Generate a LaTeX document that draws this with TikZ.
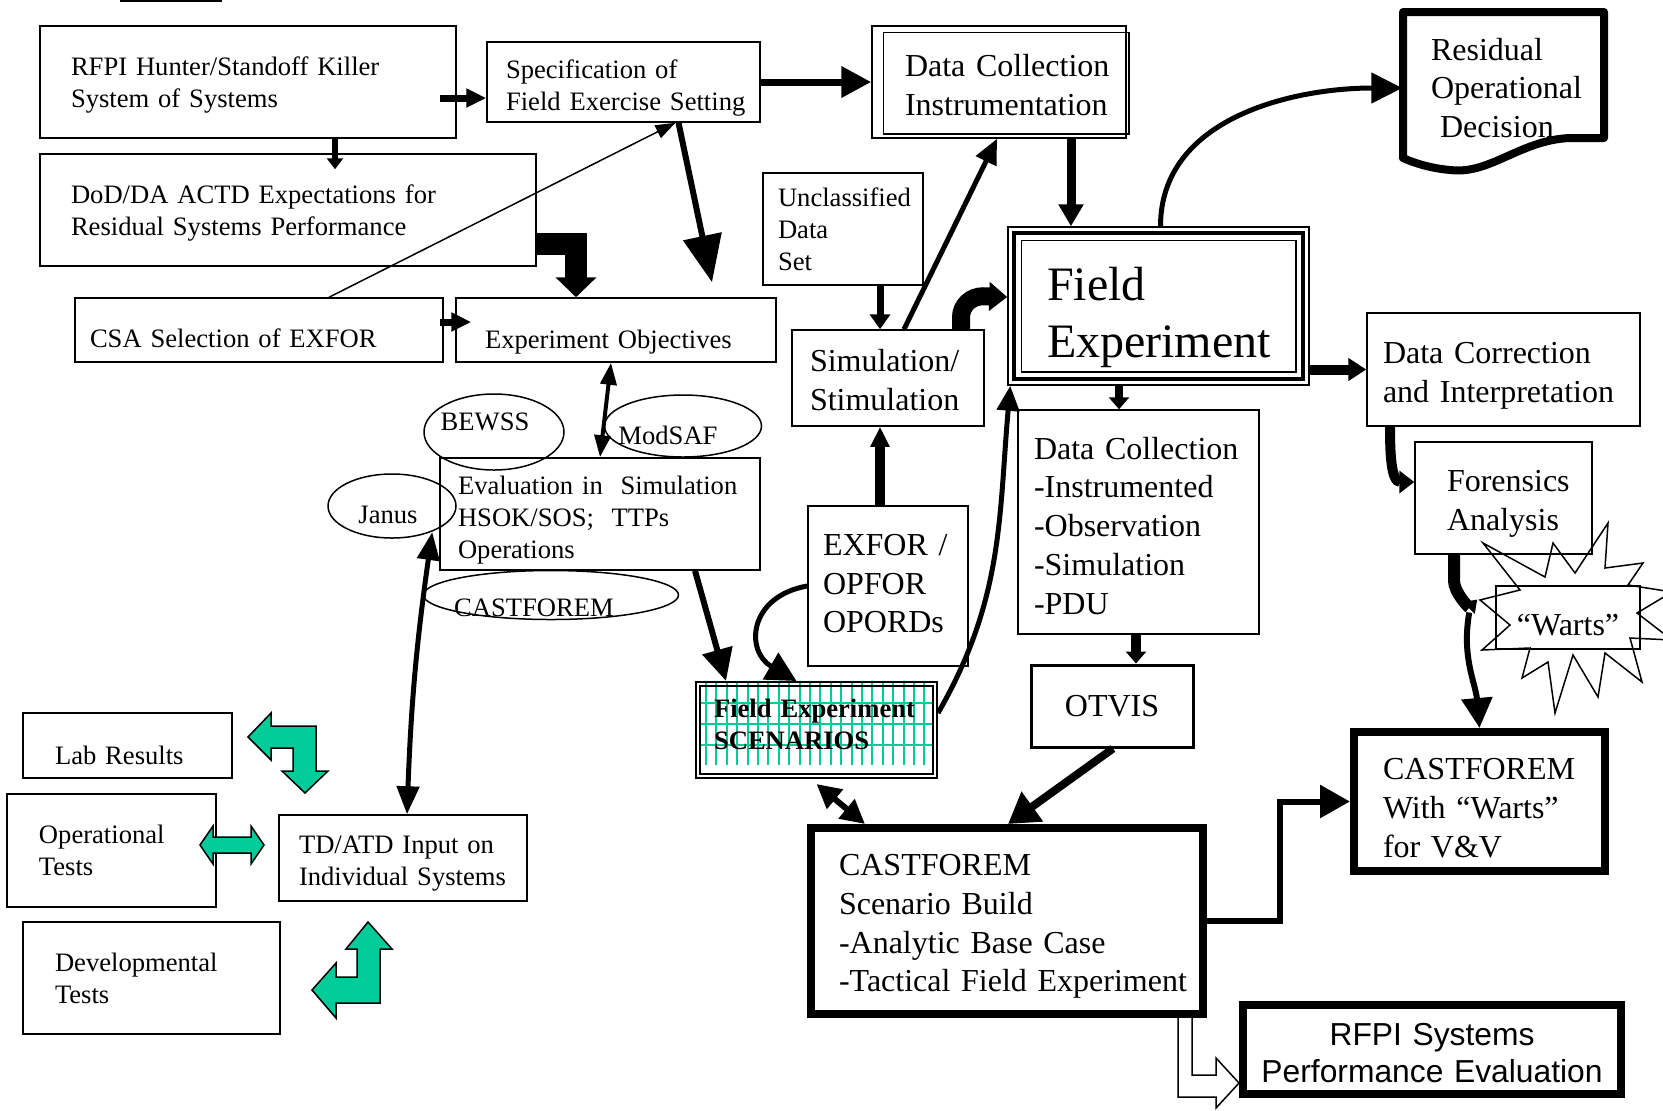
\documentclass[tikz,border=0pt]{standalone}
\usepackage{fontspec}
\setmainfont{Liberation Serif}
\newfontfamily\sansfam{Liberation Sans}
\usetikzlibrary{arrows.meta,calc,shapes.geometric}
\definecolor{tealgreen}{RGB}{0,204,153}
\hyphenpenalty=10000
\exhyphenpenalty=10000
\hbadness=10000
\hfuzz=20pt
\tikzset{
	box/.style={draw, line width=0.75pt, align=left, inner ysep=0pt},
	bx/.style n args={3}{box, minimum height=#1, inner xsep=#2, text width=#3},
	sm/.style={font=\fontsize{13.3}{16}\selectfont},
	md/.style={font=\fontsize{16}{19.4}\selectfont},
	heavy/.style={line width=4pt},
	tdown/.style={execute at begin node={\rule{0pt}{#1}}},
	tup/.style={execute at end node={\rule[-#1]{0pt}{0pt}}},
	oval/.style={draw, ellipse, line width=0.75pt, inner sep=0pt},
	con/.style n args={3}{line width=#1, -{Triangle[length=#2,width=#3]}},
	dcon/.style n args={3}{line width=#1, {Triangle[length=#2,width=#3]}-{Triangle[length=#2,width=#3]}},
	greenarrow/.style={draw, line width=0.75pt, fill=tealgreen, line join=miter},
}

\begin{document}
\begin{tikzpicture}[x=0.5pt,y=-0.5pt]
		%%%%% START %%%%%
		\useasboundingbox (0,0) rectangle (1663,1110);
		\draw[line width=1pt] (120,1) -- (222,1);
		
		% left column
		\node[bx={56pt}{15.5pt}{177pt}, sm, tdown=12.5pt] (rfpi) at (248,82) {RFPI Hunter/Standoff Killer\\System of Systems};
		\node[bx={40pt}{9.5pt}{117.5pt}, sm, tdown=15.7pt] (spec) at (623.5,82) {Specification of\\Field~Exercise~Setting};
		\node[bx={56pt}{15.5pt}{217pt}, sm, tdown=11.9pt] (dod) at (288,210) {DoD/DA ACTD Expectations for\\Residual Systems Performance};
		\node[bx={32pt}{7.5pt}{169pt}, sm, tdown=17.8pt] (csa) at (259,330) {CSA Selection of EXFOR};
		\node[bx={32pt}{14.5pt}{131pt}, sm, tdown=21pt] (expobj) at (616,330) {Experiment Objectives};
		\node[bx={56pt}{9pt}{142pt}, sm, tdown=15.7pt] (eval) at (600,514) {Evaluation in~ Simulation\\HSOK/SOS;~ TTPs\\Operations};
		
		\node[oval, minimum width=70pt, minimum height=38pt, label={[sm, xshift=-4.5pt, yshift=5pt]center:BEWSS}] (bewss) at (494,432) {};
		\node[oval, minimum width=78.5pt, minimum height=31pt, label={[sm, xshift=-7.5pt, yshift=-4.5pt]center:ModSAF}] (modsaf) at (683,426) {};
		\node[oval, minimum width=64pt, minimum height=32pt, label={[sm, xshift=-2pt, yshift=-4.5pt]center:Janus}] (janus) at (392,506) {};
		\node[oval, minimum width=127.5pt, minimum height=24.5pt, label={[sm, xshift=-8.5pt, yshift=-6.5pt]center:CASTFOREM}] (castoval) at (551,595) {};
		
		\node[bx={32.5pt}{16pt}{72.5pt}, sm, tdown=18.8pt] (lab) at (127.5,745.5) {Lab Results};
		\node[bx={56.5pt}{16pt}{72.5pt}, sm] (ot) at (111.5,850.5) {Operational\\Tests};
		\node[bx={43pt}{10pt}{104pt}, sm, tdown=14.6pt] (td) at (403,858) {TD/ATD Input on\\Individual~Systems};
		\node[bx={56pt}{16pt}{96.5pt}, sm] (dt) at (151.5,978) {Developmental\\Tests};
		
		\draw[greenarrow] (248,737) -- (271,713) -- (271,726) -- (316,726) -- (316,771) -- (328,771) -- (305,793) -- (282,771) -- (293,771) -- (293,748) -- (271,748) -- (271,760) -- cycle;
		\draw[greenarrow] (200,845) -- (213,826) -- (213,837) -- (251,837) -- (251,826) -- (264,845) -- (251,864) -- (251,853) -- (213,853) -- (213,864) -- cycle;
		\draw[greenarrow] (368,922) -- (392,949) -- (380,949) -- (380,1003) -- (336,1003) -- (336,1018) -- (312,990) -- (336,963) -- (336,977) -- (357,977) -- (357,949) -- (346,949) -- cycle;
		
		% middle
		\node[bx={56pt}{16.5pt}{94pt}, md, tdown=14.4pt] (dci) at (999,82) {Data~Collection\\Instrumentation};
		\draw[line width=0.75pt] ($(dci.north west)+(12,7)$) rectangle ($(dci.south east)+(2,-5)$);
		\node[bx={56pt}{7.5pt}{65pt}, sm] (unclass) at (843,229) {Unclassified\\Data\\Set};
		\node[bx={48pt}{9pt}{78pt}, md, tdown=13.2pt] (sim) at (888,378) {Simulation/\\Stimulation};
		\node[bx={80pt}{7.5pt}{65pt}, md, tup=2.6pt] (exfor) at (888,586) {EXFOR~/\\OPFOR\\OPORDs};
		
		\foreach \gx in {706,716.4,...,930} \draw[tealgreen, line width=1pt] (\gx,683) -- (\gx,765);
		\foreach \gy in {703,724,745} \draw[tealgreen, line width=1pt] (701,\gy) -- (932,\gy);
		\node[bx={48pt}{9pt}{102.5pt}, line width=1pt, font=\fontsize{13.3}{16}\selectfont\bfseries, tup=5.3pt] (scen) at (816.5,730) {Field~Experiment\\SCENARIOS};
		\draw[line width=0.75pt] ($(scen.north west)+(5,5)$) rectangle ($(scen.south east)+(-5,-5)$);
		
		\node[bx={79pt}{19.5pt}{111.5pt}, font=\fontsize{24}{28.5}\selectfont, tdown=27.8pt] (fe) at (1158.5,306) {Field\\Experiment};
		\draw[line width=2pt] ($(fe.north west)+(7,7)$) rectangle ($(fe.south east)+(-7,-7)$);
		\draw[line width=0.75pt] ($(fe.north west)+(14,14)$) rectangle ($(fe.south east)+(-14,-14)$);
		\node[bx={112pt}{8pt}{104.5pt}, md, tdown=14.9pt] (dcoll) at (1138.5,522) {Data Collection\\-Instrumented\\-Observation\\-Simulation\\-PDU};
		\node[box, line width=1.5pt, minimum width=81pt, minimum height=41pt, align=center, md] (otvis) at (1112,706) {OTVIS};
		\node[bx={93pt}{14pt}{168pt}, heavy, md, tdown=16pt] (cf) at (1007,921) {CASTFOREM\\Scenario Build\\-Analytic Base Case\\\mbox{-Tactical Field Experiment}};
		
		% right column
		\draw[line width=4pt, line join=round] (1403,12) -- (1604,12) -- (1604,138) -- (1570,138) .. controls (1520,140) and (1490,175) .. (1450,170) .. controls (1428,168) and (1412,162) .. (1403,158) -- cycle;
		\node[bx={76pt}{14pt}{72.5pt}, draw=none, md] (res) at (1503.5,88) {Residual\\Operational\\\hspace{4.5pt}Decision};
		\node[bx={56.5pt}{8pt}{120.5pt}, md, tdown=17pt] (dcorr) at (1503.5,369.5) {Data Correction\\and Interpretation};
		\node[bx={56pt}{16pt}{56.5pt}, md, tdown=16.5pt] (fa) at (1503.5,498) {Forensics\\Analysis};
		\draw[line width=0.75pt] (1483,543) -- (1545,577) -- (1553,543) -- (1575,573) -- (1608,523) -- (1605,568) -- (1643,563) -- (1628,585) -- (1672,592) -- (1637,613) -- (1672,640) -- (1630,638) -- (1642,682) -- (1605,653) -- (1598,697) -- (1573,655) -- (1555,713) -- (1548,662) -- (1522,678) -- (1530,648) -- (1482,650) -- (1510,625) -- (1480,600) -- (1520,590) -- cycle;
		\node[box, minimum height=31.5pt, inner xsep=3pt, text width=66pt, align=center, md, tdown=18.6pt] (warts) at (1568,617.5) {“Warts”};
		\node[bx={69.5pt}{14.5pt}{96.5pt}, heavy, md, tdown=17pt] (cw) at (1479.5,801.5) {CASTFOREM\\With “Warts”\\for V\&V};
		\node[box, heavy, minimum height=44.5pt, inner xsep=5pt, text width=179pt, align=center, font=\sansfam\fontsize{15.9}{18.5}\selectfont, tdown=15.1pt] (rps) at (1432,1049.5) {RFPI Systems\\Performance Evaluation};
		\draw[line width=0.75pt, fill=white] (1178,1018) -- (1178,1097) -- (1216,1097) -- (1216,1108) -- (1239,1083) -- (1216,1058) -- (1216,1075) -- (1192,1075) -- (1192,1018);
		
		% connectors
		\draw[con={3.5pt}{10pt}{9pt}] ($(rfpi.east)+(-17,16)$) -- ($(spec.west)+(0,16)$);
		\draw[con={3pt}{5.5pt}{8pt}] ($(rfpi.south)+(87,0)$) -- ($(dod.north)+(47,16)$);
		\draw[con={11pt}{10pt}{20pt}, line join=miter] ($(dod.east)+(0,34)$) -| ($(expobj.north)+(-40,0)$);
		\draw[con={3pt}{23.5pt}{19pt}] ($(spec.south)+(55,0)$) -- ($(expobj.north)+(96,-15)$);
		\draw[con={0.75pt}{10pt}{7pt}] ($(csa.north)+(70,0)$) -- ($(spec.south)+(52,0)$);
		\draw[con={3.5pt}{10pt}{9pt}] ($(csa.east)+(-4,-8)$) -- ($(expobj.west)+(16,-8)$);
		\draw[dcon={2pt}{11pt}{8pt}] ($(expobj.south)+(-5,0)$) -- (eval.north);
		\draw[dcon={2.5pt}{14pt}{11pt}] ($(eval.west)+(-7,18)$) to[bend right=3] ($(td.north)+(4,0)$);
		\draw[con={3pt}{16pt}{15pt}] ($(eval.south)+(95,0)$) -- ($(scen.north)+(-90.5,0)$);
		
		\draw[con={3.5pt}{15pt}{15pt}] (spec.east) -- (dci.west);
		\draw[con={4.5pt}{11pt}{12pt}] ($(dci.south)+(72,0)$) -- ($(fe.north)+(-87.5,0)$);
		\draw[con={2.5pt}{12.5pt}{11pt}] ($(sim.north)+(16,0)$) -- ($(dci.south)+(-2,0)$);
		\draw[con={3.5pt}{7.5pt}{10pt}] ($(unclass.south)+(37,0)$) -- ($(sim.north)+(-8,0)$);
		\draw[con={9pt}{9pt}{14pt}] ($(sim.north)+(73,0)$) -- ++(0,-12) to[out=90,in=180] ++(22,-21) -- ($(fe.west)+(0,-9)$);
		\draw[con={5pt}{10pt}{9pt}] ($(exfor.north)+(-8,0)$) -- ($(sim.south)+(-8,0)$);
		\draw[con={2.5pt}{15pt}{15pt}] (exfor.west) to[out=190,in=150,looseness=1.6] ($(scen.north)+(-20,0)$);
		\draw[con={2.5pt}{12.5pt}{11pt}] ($(scen.east)+(0,-17)$) to[out=60,in=265] ($(fe.south west)+(3,0)$);
		\draw[dcon={3pt}{12pt}{12pt}] ($(scen.south)+(0,5)$) -- ($(cf.north)+(-142,0)$);
		
		\draw[con={2.5pt}{15.5pt}{15pt}] ($(fe.north)+(2,0)$) to[out=90,in=180] (res.west);
		\draw[con={5pt}{9pt}{11pt}] (fe.east |- dcorr.west) -- (dcorr.west);
		\draw[con={4pt}{6pt}{10pt}] ($(fe.south)+(-39.5,0)$) -- ($(dcoll.north)+(-19.5,0)$);
		\draw[con={5pt}{6pt}{10pt}] ($(dcoll.south)+(-2.5,0)$) -- ($(otvis.north)+(24,0)$);
		\draw[con={4pt}{15pt}{17.5pt}] ($(otvis.south)+(1,0)$) -- ($(cf.north)+(1,0)$);
		\draw[con={3pt}{15pt}{16pt}] (cf.east) -- ++(73,0) |- (cw.west);
		
		\draw[con={5pt}{7.5pt}{11pt}] ($(dcorr.south)+(-113.5,0)$) to[out=270,in=180] ($(fa.west)+(0,-16)$);
		\draw[con={6pt}{6pt}{8pt}] ($(fa.south)+(-49.5,0)$) -- ++(0,26) to[out=270,in=225] ($(warts.west)+(-18,-18)$);
		\coordinate (split) at ($(warts.west)+(-26,-5)$);
		\draw[con={3pt}{15pt}{15pt}] (split) to[out=260,in=95] (cw.north);
		
		%%%%% END %%%%%
\end{tikzpicture}
\end{document}
